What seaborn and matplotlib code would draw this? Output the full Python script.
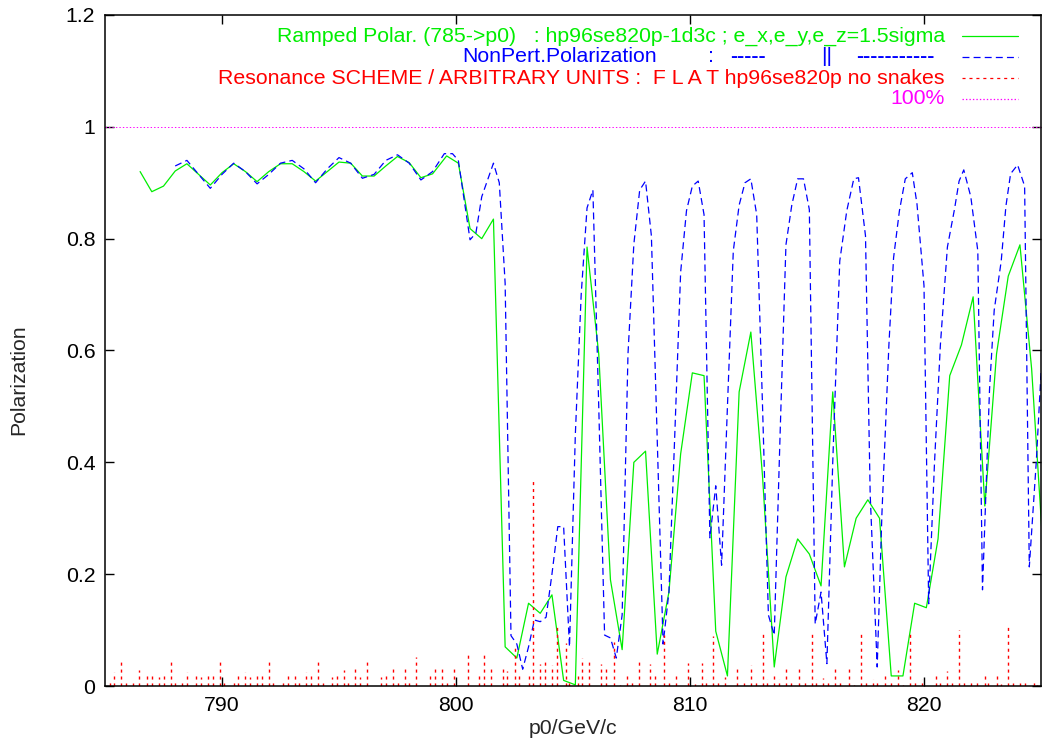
import numpy as np
import pandas as pd
import matplotlib
matplotlib.use("Agg")
import matplotlib.pyplot as plt
import seaborn as sns
from matplotlib.lines import Line2D

# ---------------- data ----------------
ramp_x = [786.5, 787.0, 787.5, 788.0, 788.5, 789.0, 789.5, 790.0, 790.5, 791.0,
          791.5, 792.0, 792.5, 793.0, 793.5, 794.0, 794.5, 795.0, 795.5, 796.0,
          796.5, 797.0, 797.5, 798.0, 798.5, 799.0, 799.6, 800.1, 800.6, 801.1,
          801.6, 802.1, 802.6, 803.1, 803.6, 804.1, 804.6, 805.1, 805.6, 806.1,
          806.6, 807.1, 807.6, 808.1, 808.6, 809.1, 809.6, 810.1, 810.6, 811.1,
          811.6, 812.1, 812.6, 813.1, 813.6, 814.1, 814.6, 815.1, 815.6, 816.1,
          816.6, 817.1, 817.6, 818.1, 818.6, 819.1, 819.6, 820.1, 820.6, 821.1,
          821.6, 822.1, 822.6, 823.1, 823.6, 824.1, 824.6, 825.1]
ramp_y = [0.920, 0.884, 0.894, 0.921, 0.934, 0.915, 0.896, 0.918, 0.934, 0.920,
          0.902, 0.920, 0.934, 0.934, 0.920, 0.903, 0.920, 0.937, 0.935, 0.912,
          0.912, 0.930, 0.947, 0.936, 0.909, 0.916, 0.948, 0.935, 0.818, 0.800,
          0.835, 0.070, 0.050, 0.148, 0.130, 0.163, 0.010, 0.002, 0.785, 0.594,
          0.190, 0.065, 0.400, 0.420, 0.057, 0.168, 0.415, 0.560, 0.555, 0.098,
          0.018, 0.526, 0.633, 0.375, 0.034, 0.195, 0.263, 0.236, 0.179, 0.526,
          0.213, 0.300, 0.333, 0.300, 0.018, 0.018, 0.148, 0.140, 0.263, 0.555,
          0.610, 0.696, 0.322, 0.594, 0.733, 0.789, 0.567, 0.236]

nonpert_x = [788.0, 788.5, 789.0, 789.5, 790.0, 790.5, 791.0, 791.5, 792.0, 792.5,
             793.0, 793.5, 794.0, 794.5, 795.0, 795.5, 796.0, 796.5, 797.0, 797.5,
             798.0, 798.5, 799.0, 799.5, 799.85, 800.1, 800.6, 800.85, 801.1, 801.35,
             801.6, 801.85, 802.1, 802.35, 802.6, 802.85, 803.1, 803.35, 803.6, 803.85,
             804.1, 804.35, 804.6, 804.85, 805.1, 805.35, 805.6, 805.85, 806.1, 806.35,
             806.6, 806.85, 807.1, 807.35, 807.6, 807.85, 808.1, 808.35, 808.6, 808.85,
             809.1, 809.35, 809.6, 809.85, 810.1, 810.35, 810.6, 810.85, 811.1, 811.35,
             811.6, 811.85, 812.1, 812.35, 812.6, 812.85, 813.1, 813.35, 813.6, 813.85,
             814.1, 814.35, 814.6, 814.85, 815.1, 815.35, 815.6, 815.85, 816.1, 816.4,
             816.7, 817.0, 817.2, 817.5, 817.7, 818.0, 818.2, 818.5, 818.7, 818.95,
             819.2, 819.5, 819.7, 820.0, 820.2, 820.45, 820.7, 821.0, 821.3, 821.5,
             821.7, 822.0, 822.3, 822.5, 822.8, 823.0, 823.3, 823.5, 823.7, 824.0,
             824.3, 824.5, 824.8, 825.0, 825.2]
nonpert_y = [0.930, 0.940, 0.915, 0.890, 0.915, 0.935, 0.920, 0.898, 0.915, 0.935,
             0.940, 0.925, 0.900, 0.925, 0.945, 0.935, 0.908, 0.915, 0.940, 0.950,
             0.935, 0.905, 0.920, 0.952, 0.952, 0.940, 0.798, 0.810, 0.875, 0.905,
             0.935, 0.900, 0.720, 0.090, 0.075, 0.030, 0.070, 0.118, 0.115, 0.123,
             0.200, 0.285, 0.285, 0.070, 0.450, 0.700, 0.855, 0.887, 0.500, 0.091,
             0.086, 0.050, 0.127, 0.594, 0.790, 0.887, 0.903, 0.805, 0.440, 0.075,
             0.168, 0.450, 0.740, 0.850, 0.894, 0.903, 0.843, 0.265, 0.358, 0.216,
             0.500, 0.778, 0.860, 0.900, 0.907, 0.843, 0.500, 0.127, 0.091, 0.450,
             0.789, 0.860, 0.907, 0.907, 0.852, 0.111, 0.168, 0.040, 0.400, 0.760,
             0.850, 0.907, 0.909, 0.805, 0.343, 0.034, 0.306, 0.610, 0.766, 0.850,
             0.907, 0.918, 0.862, 0.716, 0.147, 0.400, 0.610, 0.785, 0.852, 0.903,
             0.923, 0.875, 0.778, 0.172, 0.530, 0.672, 0.760, 0.858, 0.916, 0.932,
             0.894, 0.213, 0.402, 0.560, 0.300]

res_x = [785.2, 785.4, 785.7, 785.9, 786.2, 786.45, 786.8, 787.0, 787.3, 787.5,
         787.8, 788.0, 788.3, 788.5, 788.9, 789.1, 789.4, 789.6, 789.9, 790.1,
         790.5, 790.7, 791.0, 791.2, 791.5, 791.7, 792.0, 792.2, 792.6, 792.8,
         793.1, 793.3, 793.6, 793.8, 794.1, 794.3, 794.7, 794.9, 795.2, 795.4,
         795.7, 795.9, 796.2, 796.8, 797.0, 797.3, 797.5, 797.8, 798.0, 798.3,
         798.9, 799.1, 799.4, 799.6, 799.9, 800.5, 801.0, 801.2, 801.5, 802.0,
         802.2, 802.5, 802.7, 803.1, 803.3, 803.6, 803.8, 804.1, 804.3, 804.7,
         804.85, 805.2, 805.4, 805.7, 806.2, 806.4, 806.75, 807.0, 807.3, 807.5,
         807.8, 808.3, 808.5, 808.9, 809.1, 809.4, 809.9, 810.2, 810.5, 810.7,
         811.0, 811.2, 811.5, 812.0, 812.3, 812.6, 812.8, 813.1, 813.3, 813.6,
         813.8, 814.1, 814.3, 814.65, 814.9, 815.2, 815.4, 815.7, 815.9, 816.2,
         816.4, 816.8, 817.0, 817.3, 817.5, 817.8, 818.0, 818.35, 818.6, 818.9,
         819.1, 819.4, 819.6, 819.9, 820.5, 820.7, 821.0, 821.2, 821.5, 821.7,
         822.0, 822.25, 822.6, 822.75, 823.1, 823.3, 823.6, 823.8, 824.1, 824.3,
         824.7, 824.85]
res_y = [0.010, 0.025, 0.043, 0.006, 0.005, 0.029, 0.021, 0.018, 0.016, 0.023,
         0.046, 0.008, 0.007, 0.025, 0.023, 0.016, 0.018, 0.023, 0.045, 0.005,
         0.010, 0.020, 0.025, 0.016, 0.024, 0.021, 0.045, 0.007, 0.009, 0.021,
         0.023, 0.011, 0.025, 0.020, 0.046, 0.006, 0.016, 0.021, 0.028, 0.008,
         0.030, 0.016, 0.046, 0.016, 0.023, 0.030, 0.010, 0.031, 0.008, 0.052,
         0.017, 0.032, 0.035, 0.006, 0.033, 0.061, 0.017, 0.060, 0.036, 0.036,
         0.027, 0.068, 0.018, 0.022, 0.367, 0.039, 0.048, 0.037, 0.107, 0.077,
         0.012, 0.018, 0.050, 0.044, 0.040, 0.031, 0.079, 0.002, 0.020, 0.009,
         0.045, 0.040, 0.020, 0.092, 0.005, 0.022, 0.042, 0.004, 0.041, 0.013,
         0.090, 0.007, 0.016, 0.036, 0.005, 0.038, 0.009, 0.095, 0.013, 0.018,
         0.013, 0.032, 0.009, 0.036, 0.009, 0.097, 0.013, 0.015, 0.009, 0.031,
         0.007, 0.032, 0.002, 0.095, 0.009, 0.013, 0.007, 0.023, 0.009, 0.029,
         0.002, 0.098, 0.011, 0.013, 0.020, 0.005, 0.027, 0.005, 0.100, 0.007,
         0.009, 0.011, 0.018, 0.005, 0.023, 0.004, 0.105, 0.005, 0.005, 0.005,
         0.011, 0.002]

x_ticks = [790, 800, 810, 820]
y_ticks = [0, 0.2, 0.4, 0.6, 0.8, 1.0, 1.2]
y_tick_labels = ["0", "0.2", "0.4", "0.6", "0.8", "1", "1.2"]

key_ramp = "Ramped Polar. (785->p0)   : hp96se820p-1d3c ; e_x,e_y,e_z=1.5sigma"
key_nonpert = ["NonPert.Polarization", ":", "-----", "||", "-----------"]
key_res = "Resonance SCHEME / ARBITRARY UNITS :  F L A T hp96se820p no snakes"
key_100 = "100%"

# ---------------- style ----------------
GREEN = "#00ee00"
BLUE = "#0000ff"
RED = "#ff0000"
MAGENTA = "#ff00ff"
W, H = 1042, 746
FS = 15.3

sns.set_style("ticks")
plt.rcParams["font.family"] = ["Liberation Sans", "DejaVu Sans"]
plt.rcParams["font.size"] = FS
plt.rcParams["lines.scale_dashes"] = False

fig = plt.figure(figsize=(W / 100, H / 100), dpi=100)
ax = fig.add_axes([105 / W, 60 / H, 936 / W, 671 / H])

ramp_df = pd.DataFrame({"p0": ramp_x, "P": ramp_y})
np_df = pd.DataFrame({"p0": nonpert_x, "P": nonpert_y})

BLUE_DASH = (0, (5, 3))
RED_DASH = (0, (2.2, 2.8))
MAG_DOT = (0, (1, 1.5))

sns.lineplot(data=ramp_df, x="p0", y="P", ax=ax, color=GREEN, linewidth=0.9,
             estimator=None, sort=False)
sns.lineplot(data=np_df, x="p0", y="P", ax=ax, color=BLUE, linewidth=0.9,
             linestyle=BLUE_DASH, estimator=None, sort=False)
ax.vlines(res_x, 0, res_y, colors=RED, linewidth=1.0, linestyles=[RED_DASH])
ax.axhline(1.0, color=MAGENTA, linewidth=0.7, linestyle=MAG_DOT)

ax.set_xlim(785, 825)
ax.set_ylim(0, 1.2)
ax.set_xticks(x_ticks)
ax.set_xticklabels([str(v) for v in x_ticks])
ax.set_yticks(y_ticks)
ax.set_yticklabels(y_tick_labels)
ax.tick_params(direction="in", length=6.5, width=1.0, top=True, right=True,
               labelsize=FS, colors="black")
ax.tick_params(axis="y", pad=7)
ax.tick_params(axis="x", pad=7)
for s in ax.spines.values():
    s.set_visible(True)
    s.set_linewidth(1.1)
    s.set_color("black")
ax.set_xlabel("")
ax.set_ylabel("")

fig.text(573 / W, 1 - 728 / H, "p0/GeV/c", ha="center", va="center", fontsize=FS)
fig.text(19 / W, 1 - 380 / H, "Polarization", ha="center", va="center",
         rotation=90, fontsize=FS)

# gnuplot-like key
def fy(py):
    return 1 - py / H

fig.text(945 / W, fy(36), key_ramp, ha="right", va="center", color=GREEN, fontsize=FS)
np_left = [462, 708, 730, 821, 856]
np_bold = [False, False, True, False, True]
for txt, lx, b in zip(key_nonpert, np_left, np_bold):
    fig.text(lx / W, fy(57), txt, ha="left", va="center", color=BLUE, fontsize=FS,
             fontweight="bold" if b else "normal")
fig.text(945 / W, fy(78), key_res, ha="right", va="center", color=RED, fontsize=FS)
fig.text(945 / W, fy(99), key_100, ha="right", va="center", color=MAGENTA, fontsize=FS)

key_y = [36, 57, 78, 99]
key_colors = [GREEN, BLUE, RED, MAGENTA]
key_styles = ["-", BLUE_DASH, RED_DASH, MAG_DOT]
for yy, col, st in zip(key_y, key_colors, key_styles):
    fig.add_artist(Line2D([962 / W, 1018 / W], [fy(yy), fy(yy)],
                          transform=fig.transFigure, color=col, linewidth=0.9,
                          linestyle=st))

fig.savefig("out.png", dpi=100)
